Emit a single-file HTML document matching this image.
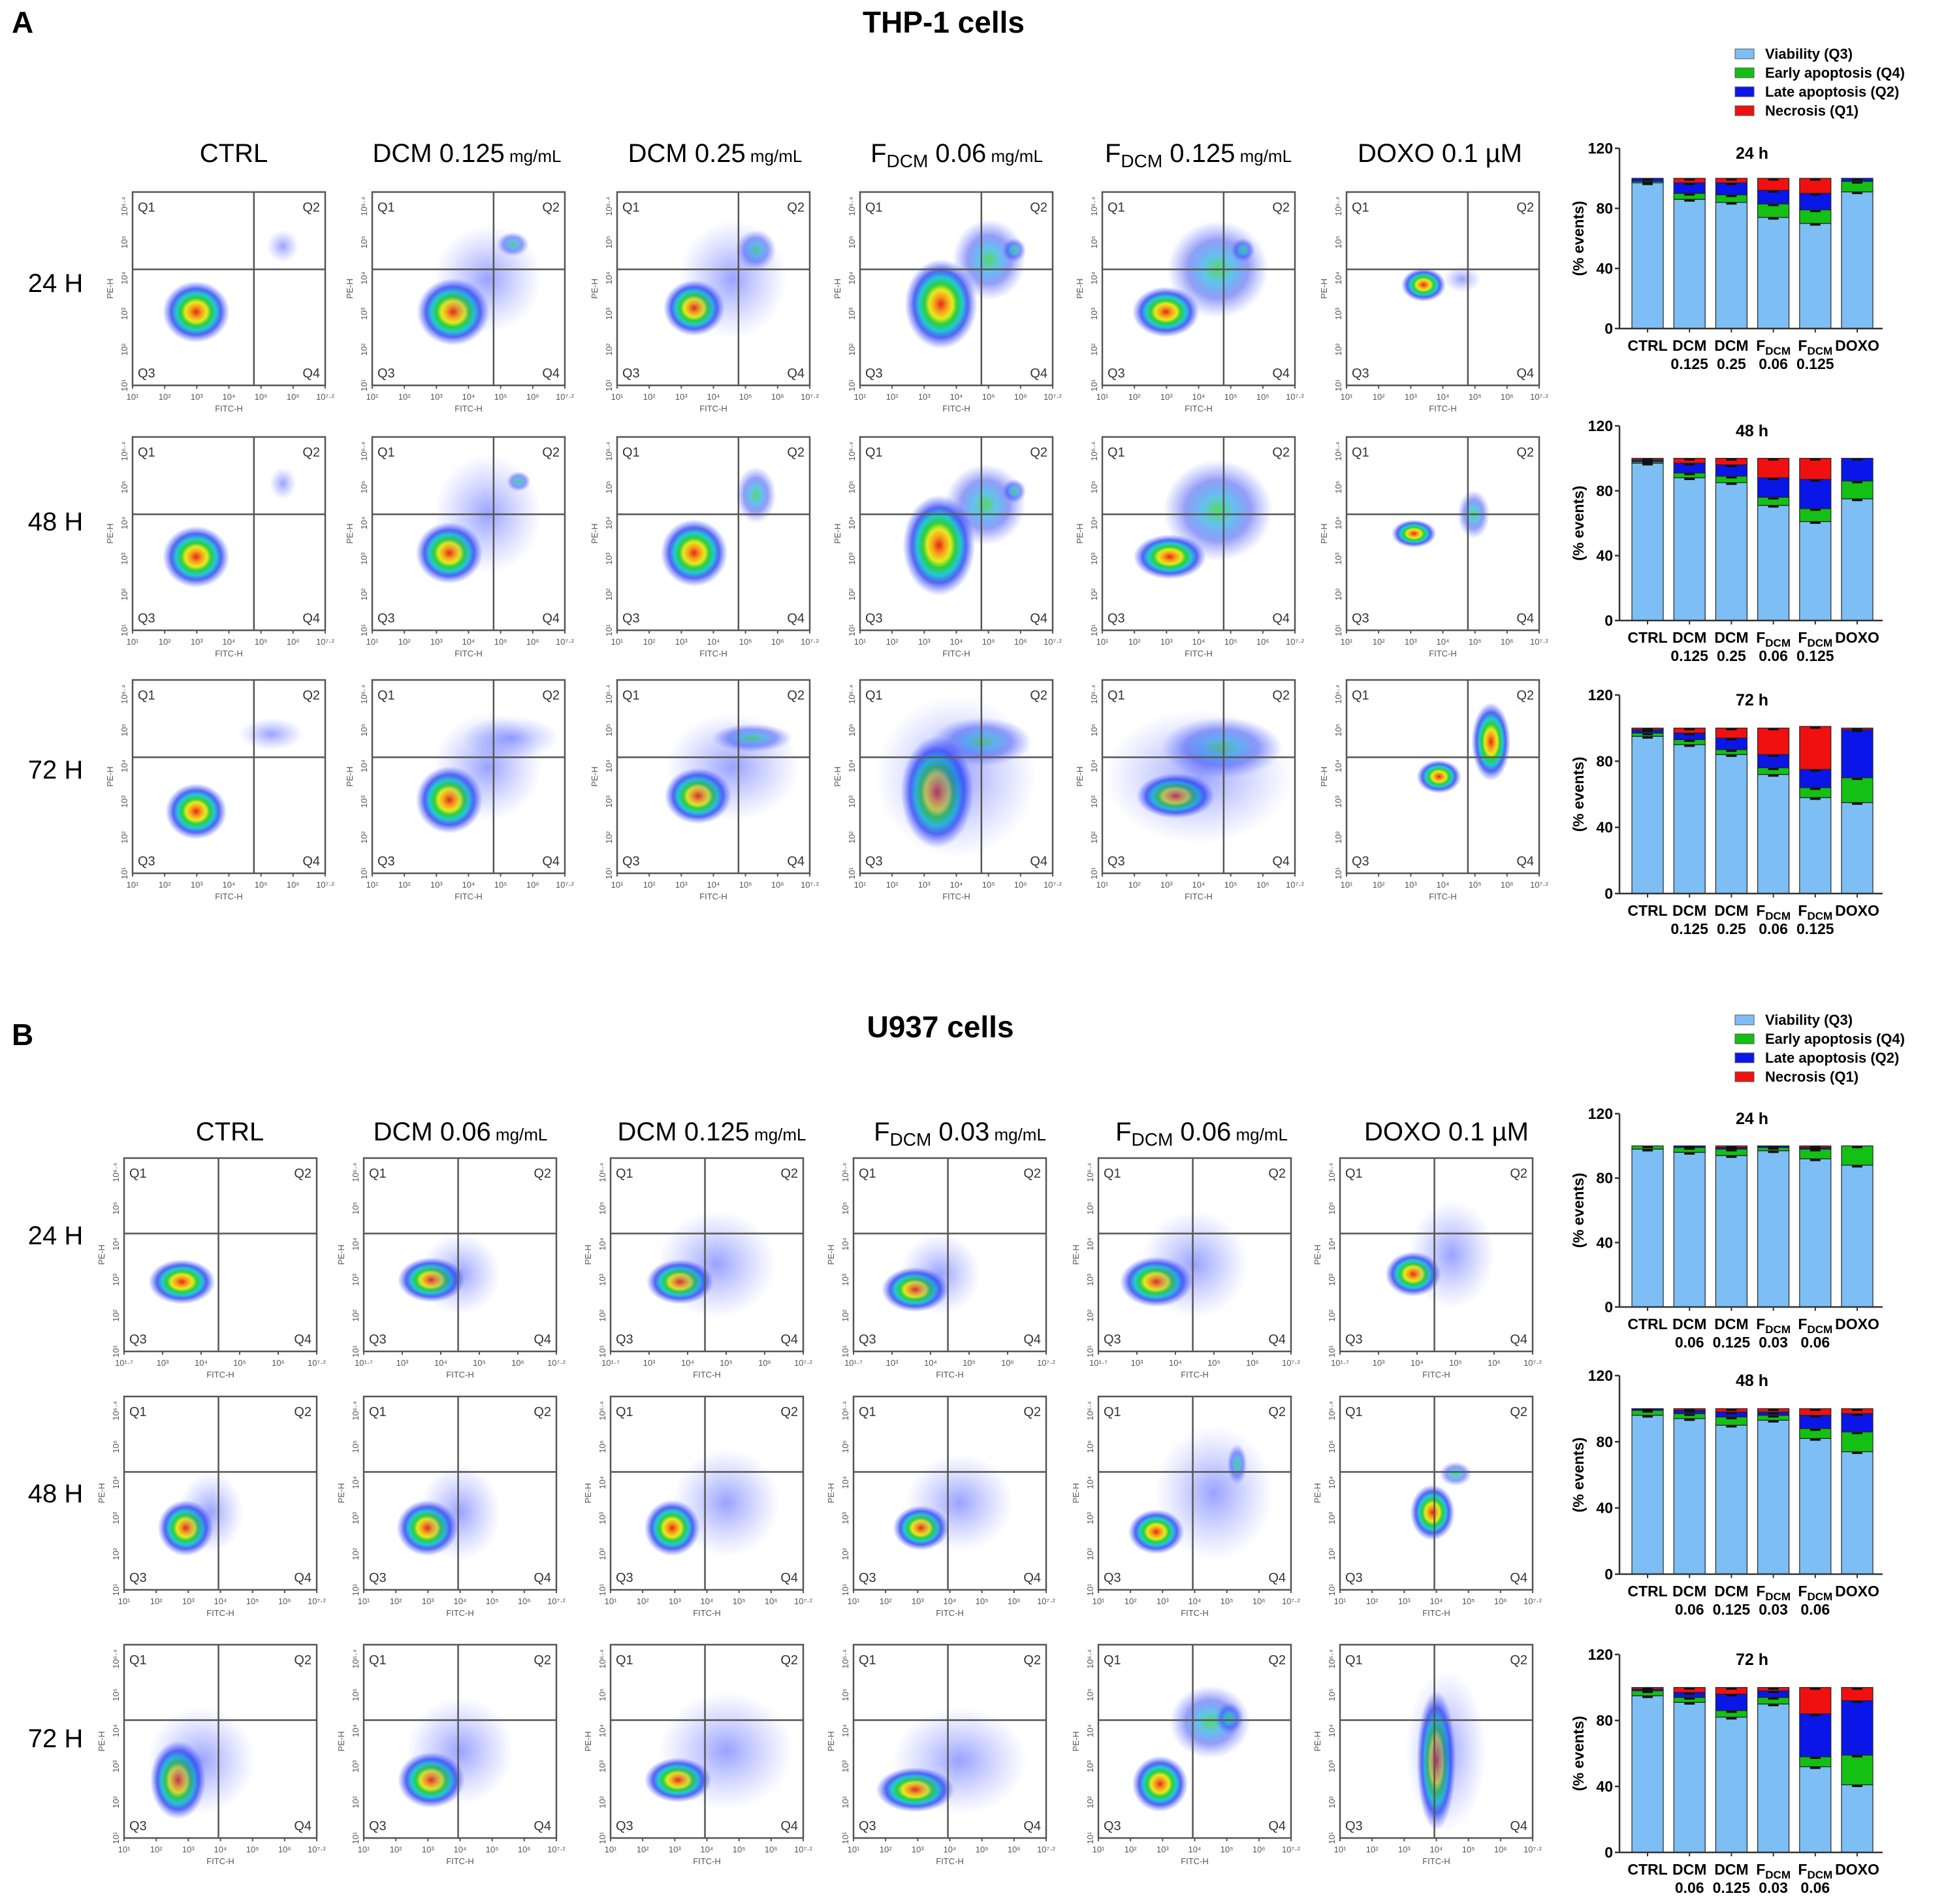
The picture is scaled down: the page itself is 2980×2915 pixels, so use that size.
<!DOCTYPE html>
<html><head><meta charset="utf-8"><style>
html,body{margin:0;padding:0;background:#fff}
svg{display:block;font-family:"Liberation Sans",Arial,sans-serif}
</style></head><body>
<svg id="fig" width="2980" height="2915" viewBox="0 0 2980 2915" xmlns="http://www.w3.org/2000/svg">
<defs>
<radialGradient id="hot" cx="50%" cy="50%" r="50%">
<stop offset="0" stop-color="#e8261a"/><stop offset="0.18" stop-color="#f6a21a"/><stop offset="0.32" stop-color="#e8ea20"/><stop offset="0.45" stop-color="#2ccf3c"/><stop offset="0.6" stop-color="#22c8d8"/><stop offset="0.75" stop-color="#2a3ef0" stop-opacity="0.8"/><stop offset="1" stop-color="#4a5cff" stop-opacity="0"/>
</radialGradient>
<radialGradient id="warm" cx="50%" cy="50%" r="50%">
<stop offset="0" stop-color="#2ccf3c" stop-opacity="0.8"/><stop offset="0.3" stop-color="#22a8e8" stop-opacity="0.7"/><stop offset="0.6" stop-color="#2a3ef0" stop-opacity="0.5"/><stop offset="1" stop-color="#4a5cff" stop-opacity="0"/>
</radialGradient>
<radialGradient id="cool" cx="50%" cy="50%" r="50%">
<stop offset="0" stop-color="#3344ff" stop-opacity="0.5"/><stop offset="1" stop-color="#6070ff" stop-opacity="0"/>
</radialGradient>
</defs>
<text x="18" y="50" font-size="46" font-weight="bold">A</text>
<text x="1445" y="50" font-size="46" font-weight="bold" text-anchor="middle">THP-1 cells</text>
<text x="18" y="1600" font-size="46" font-weight="bold">B</text>
<text x="1440" y="1588" font-size="46" font-weight="bold" text-anchor="middle">U937 cells</text>
<g id="content"></g>
</svg>
<script>
// ---- bar chart data ----
const seriesNames = ["Viability (Q3)","Early apoptosis (Q4)","Late apoptosis (Q2)","Necrosis (Q1)"];
const seriesColors = ["#7dbff5","#13c013","#0a16e8","#f01010"];
const catsA = [["CTRL"],["DCM","0.125"],["DCM","0.25"],["F|DCM","0.06"],["F|DCM","0.125"],["DOXO"]];
const catsB = [["CTRL"],["DCM","0.06"],["DCM","0.125"],["F|DCM","0.03"],["F|DCM","0.06"],["DOXO"]];
const yTicks = [0,40,80,120];
const A24_viab=[97,86,84,74,70,91], A24_early=[1,4,5,9,9,7], A24_late=[2,7,8,9,11,2], A24_nec=[0,3,3,8,10,0];
const A48_viab=[97,88,85,71,61,75], A48_early=[1,3,4,5,8,11], A48_late=[1,6,7,12,18,14], A48_nec=[1,3,4,12,13,0];
const A72_viab=[95,90,84,72,58,55], A72_early=[2,3,3,4,6,15], A72_late=[2,4,7,8,11,29], A72_nec=[1,3,6,16,26,1];
const B24_viab=[98,96,94,97,92,88], B24_early=[2,3,4,2,6,12], B24_late=[0,1,1,1,1,0], B24_nec=[0,0,1,0,1,0];
const B48_viab=[96,94,90,93,82,74], B48_early=[3,3,5,3,6,12], B48_late=[1,2,3,2,8,11], B48_nec=[0,1,2,2,4,3];
const B72_viab=[95,91,82,90,52,41], B72_early=[3,3,4,4,6,18], B72_late=[1,3,10,4,26,33], B72_nec=[1,3,4,2,16,8];

const NS="http://www.w3.org/2000/svg";
const root=document.getElementById('content');
function mk(tag,attrs,parent,txt){const e=document.createElementNS(NS,tag);for(const k in attrs)e.setAttribute(k,attrs[k]);if(txt!==undefined)e.textContent=txt;(parent||root).appendChild(e);return e;}

function barChart(ax,yTop,yBot,title,cats,data,nm){
  const g=mk('g',{});
  
  
  const yS=v=>yBot-(v/120)*(yBot-yTop);
  const xS=i=>ax+43+i*64.2;
  const t=mk('text',{x:ax+203,y:yTop+16,'font-size':25,'font-weight':'bold','text-anchor':'middle'},g,title);
  
  
  for(let i=0;i<cats.length;i++){
    let base=0;
    for(let s=0;s<4;s++){
      const v=data[s][i]; if(v<=0){continue;}
      const r=mk('rect',{x:xS(i)-24,y:yS(base+v),width:48,height:yS(base)-yS(base+v),fill:seriesColors[s],stroke:'#222','stroke-width':1.2},g);
      
      
      base+=v;
      mk('line',{x1:xS(i)-8,x2:xS(i)+8,y1:yS(base)+2,y2:yS(base)+2,stroke:'#111','stroke-width':3},g);
    }
    const lines=cats[i];
    lines.forEach((ln,k)=>{
      const tx=mk('text',{x:xS(i),y:yBot+34+k*28,'font-size':23,'font-weight':'bold','text-anchor':'middle'},g);
      if(ln.indexOf('|')>=0){const p=ln.split('|');mk('tspan',{},tx,p[0]);mk('tspan',{'font-size':17,dy:6},tx,p[1]);}
      else tx.textContent=ln;
      
      
    });
    mk('line',{x1:xS(i),x2:xS(i),y1:yBot,y2:yBot+6,stroke:'#333','stroke-width':2},g);
  }
  mk('line',{x1:ax,x2:ax,y1:yTop,y2:yBot,stroke:'#333','stroke-width':2.5},g);
  mk('line',{x1:ax,x2:ax+403,y1:yBot,y2:yBot,stroke:'#333','stroke-width':2.5},g);
  yTicks.forEach(v=>{
    mk('line',{x1:ax-7,x2:ax,y1:yS(v),y2:yS(v),stroke:'#333','stroke-width':2.5},g);
    const tl=mk('text',{x:ax-10,y:yS(v)+8,'font-size':23,'font-weight':'bold','text-anchor':'end'},g,String(v));
    
    
  });
  const yt=mk('text',{x:0,y:0,'font-size':23,'font-weight':'bold','text-anchor':'middle',transform:`translate(${ax-55},${(yTop+yBot)/2}) rotate(-90)`},g,'(% events)');
  
  
}
function legend(y0,nm){
  const g=mk('g',{});
  
  
  seriesNames.forEach((n,i)=>{
    mk('rect',{x:2657,y:y0+i*29-12,width:29,height:15,fill:seriesColors[i],stroke:'#555','stroke-width':1},g);
    const t=mk('text',{x:2703,y:y0+i*29+3,'font-size':22,'font-weight':'bold'},g,n);
    
    
  });
}
legend(87,'legend-a'); legend(1566,'legend-b');
barChart(2480,227,503,'24 h',catsA,[A24_viab,A24_early,A24_late,A24_nec],'bar-chart-a-24h');
barChart(2480,652,950,'48 h',catsA,[A48_viab,A48_early,A48_late,A48_nec],'bar-chart-a-48h');
barChart(2480,1064,1368,'72 h',catsA,[A72_viab,A72_early,A72_late,A72_nec],'bar-chart-a-72h');
barChart(2480,1705,2001,'24 h',catsB,[B24_viab,B24_early,B24_late,B24_nec],'bar-chart-b-24h');
barChart(2480,2106,2410,'48 h',catsB,[B48_viab,B48_early,B48_late,B48_nec],'bar-chart-b-48h');
barChart(2480,2533,2836,'72 h',catsB,[B72_viab,B72_early,B72_late,B72_nec],'bar-chart-b-72h');

// ---- column / row labels ----
function colLabel(x,y,main,nm){
  const t=mk('text',{x:x,y:y,'font-size':40,'text-anchor':'middle'},root,main);
  
  
}
function colLabelF(x,y,c){
  const t=mk('text',{x:x,y:y,'font-size':40,'text-anchor':'middle'});
  mk('tspan',{},t,c[0]);
  if(c[1]){mk('tspan',{'font-size':28,dy:8},t,c[1]);mk('tspan',{'font-size':40,dy:-8},t,' '+c[2]);}
  else mk('tspan',{'font-size':40},t,c[2]);
  mk('tspan',{'font-size':26},t,' mg/mL');
  
  
}
const colXA=[358,715,1095,1465,1835,2205], colXB=[352,705,1090,1470,1840,2215];
colLabel(colXA[0],248,'CTRL','column-label');
colLabelF(colXA[1],248,['DCM','','0.125'].map((v,i)=>i==2?' '+v:v));
colLabelF(colXA[2],248,['DCM','',' 0.25']);
colLabelF(colXA[3],248,['F','DCM','0.06']);
colLabelF(colXA[4],248,['F','DCM','0.125']);
colLabel(colXA[5],248,'DOXO 0.1 µM','column-label');
colLabel(colXB[0],1746,'CTRL','column-label');
colLabelF(colXB[1],1746,['DCM','',' 0.06']);
colLabelF(colXB[2],1746,['DCM','',' 0.125']);
colLabelF(colXB[3],1746,['F','DCM','0.03']);
colLabelF(colXB[4],1746,['F','DCM','0.06']);
colLabel(colXB[5],1746,'DOXO 0.1 µM','column-label');
[["24 H",447],["48 H",812],["72 H",1192],["24 H",1905],["48 H",2300],["72 H",2675]].forEach(r=>{
  const t=mk('text',{x:85,y:r[1],'font-size':40,'text-anchor':'middle'},root,r[0]);
  
  
});

// ---- flow plots ----
const colBoxA=[203,570,945,1317,1688,2062], colBoxB=[190,557,935,1307,1682,2052];
const rowBoxA=[294,669,1041], rowBoxB=[1773,2138,2518];
const clA=[
 [[[.33,.62,.12,.11,'hot'],[.78,.28,.06,.06,'cool']],[[.42,.62,.13,.12,'hot'],[.73,.27,.08,.06,'warm'],[.6,.45,.2,.2,'cool']],[[.4,.6,.11,.1,'hot'],[.72,.3,.1,.1,'warm'],[.6,.45,.2,.22,'cool']],[[.42,.58,.13,.16,'hot'],[.67,.35,.18,.2,'warm'],[.8,.3,.06,.06,'warm']],[[.33,.62,.12,.09,'hot'],[.6,.4,.25,.24,'warm'],[.73,.3,.06,.06,'warm']],[[.4,.48,.08,.06,'hot'],[.6,.45,.07,.05,'cool']]],
 [[[.33,.62,.12,.11,'hot'],[.78,.24,.05,.06,'cool']],[[.4,.6,.12,.11,'hot'],[.76,.23,.06,.05,'warm'],[.6,.4,.2,.22,'cool']],[[.4,.6,.12,.12,'hot'],[.72,.3,.1,.14,'warm']],[[.41,.56,.13,.18,'hot'],[.65,.35,.2,.2,'warm'],[.8,.28,.06,.06,'warm']],[[.35,.62,.13,.08,'hot'],[.6,.38,.27,.25,'warm']],[[.35,.5,.08,.05,'hot'],[.66,.4,.08,.12,'warm']]],
 [[[.33,.68,.11,.1,'hot'],[.72,.28,.12,.06,'cool']],[[.4,.62,.12,.12,'hot'],[.72,.3,.18,.08,'cool'],[.6,.45,.2,.2,'cool']],[[.42,.6,.12,.1,'hot'],[.7,.3,.2,.07,'warm'],[.6,.45,.25,.2,'cool']],[[.4,.58,.13,.2,'hot'],[.63,.32,.25,.12,'warm'],[.5,.5,.3,.3,'cool']],[[.38,.6,.14,.08,'hot'],[.62,.35,.3,.15,'warm'],[.5,.5,.35,.25,'cool']],[[.48,.5,.08,.06,'hot'],[.75,.32,.07,.14,'hot']]]
];
const clB=[
 [[[.3,.64,.12,.08,'hot']],[[.35,.63,.12,.08,'hot'],[.5,.6,.15,.15,'cool']],[[.36,.64,.12,.08,'hot'],[.55,.55,.22,.2,'cool']],[[.32,.68,.12,.08,'hot'],[.45,.6,.15,.15,'cool']],[[.3,.64,.13,.09,'hot'],[.5,.55,.2,.2,'cool']],[[.38,.6,.1,.08,'hot'],[.58,.5,.16,.2,'cool']]],
 [[[.32,.68,.1,.1,'hot'],[.45,.6,.12,.15,'cool']],[[.33,.68,.11,.1,'hot'],[.5,.6,.15,.18,'cool']],[[.32,.68,.1,.1,'hot'],[.6,.55,.2,.2,'cool']],[[.35,.68,.1,.08,'hot'],[.55,.55,.2,.18,'cool']],[[.3,.7,.1,.08,'hot'],[.6,.5,.22,.25,'cool'],[.72,.35,.05,.1,'warm']],[[.48,.6,.08,.1,'hot'],[.6,.4,.08,.06,'warm']]],
 [[[.28,.7,.1,.14,'hot'],[.4,.6,.2,.2,'cool']],[[.35,.7,.12,.1,'hot'],[.5,.55,.2,.2,'cool']],[[.35,.7,.12,.08,'hot'],[.6,.55,.25,.22,'cool']],[[.32,.75,.14,.08,'hot'],[.55,.6,.25,.2,'cool']],[[.32,.72,.1,.1,'hot'],[.58,.4,.2,.18,'warm'],[.68,.38,.07,.08,'warm']],[[.5,.6,.07,.25,'hot'],[.55,.55,.15,.3,'cool']]]
];
const scaleByType={hot:1.45,warm:1.05,cool:1.4};
function flowPlot(x,y,vq,hq,clusters,xt,nm){
  const w=295,h=296;
  const g=mk('g',{});
  
  
  const cp='clip-'+nm;
  const cpe=mk('clipPath',{id:cp},g); mk('rect',{x:x,y:y,width:w,height:h},cpe);
  const cg=mk('g',{'clip-path':'url(#'+cp+')'},g);
  clusters.forEach(c=>{
    const s=scaleByType[c[4]];
    const e=mk('ellipse',{cx:x+c[0]*w,cy:y+c[1]*h,rx:c[2]*w*s,ry:c[3]*h*s,fill:'url(#'+c[4]+')'},cg);
    
    
  });
  mk('rect',{x:x,y:y,width:w,height:h,fill:'none',stroke:'#555','stroke-width':2.5},g);
  mk('line',{x1:x+vq*w,x2:x+vq*w,y1:y,y2:y+h,stroke:'#555','stroke-width':2.5},g);
  mk('line',{x1:x,x2:x+w,y1:y+hq*h,y2:y+hq*h,stroke:'#555','stroke-width':2.5},g);
  [['Q1',8,30,'start'],['Q2',w-8,30,'end'],['Q3',8,h-12,'start'],['Q4',w-8,h-12,'end']].forEach(q=>{
    const t=mk('text',{x:x+q[1],y:y+q[2],'font-size':20,fill:'#333','text-anchor':q[3]},g,q[0]);
    
    
  });
  xt.forEach((l,i)=>{
    const tx=x+i*w/(xt.length-1);
    mk('line',{x1:tx,x2:tx,y1:y+h,y2:y+h+5,stroke:'#555','stroke-width':2},g);
    const t=mk('text',{x:tx,y:y+h+22,'font-size':13,fill:'#555','text-anchor':'middle'},g,l);
    
    
  });
  ['10¹','10²','10³','10⁴','10⁵','10⁶·⁴'].forEach((l,i)=>{
    const ty=y+h-i*h/5.4;
    mk('text',{x:0,y:0,'font-size':13,fill:'#555','text-anchor':'middle',transform:`translate(${x-8},${ty}) rotate(-90)`},g,l);
  });
  const xa=mk('text',{x:x+w/2,y:y+h+40,'font-size':13,fill:'#555','text-anchor':'middle'},g,'FITC-H');
  
  
  const ya=mk('text',{x:0,y:0,'font-size':13,fill:'#555','text-anchor':'middle',transform:`translate(${x-30},${y+h/2}) rotate(-90)`},g,'PE-H');
  
  
}
const xtA=['10¹','10²','10³','10⁴','10⁵','10⁶','10⁷·²'];
const xtB=['10¹·⁷','10³','10⁴','10⁵','10⁶','10⁷·²'];
for(let r=0;r<3;r++)for(let c=0;c<6;c++){
  flowPlot(colBoxA[c],rowBoxA[r],0.63,0.4,clA[r][c],xtA,'flow-plot-a-r'+r+'-c'+c);
  flowPlot(colBoxB[c],rowBoxB[r],0.49,0.39,clB[r][c],r==0?xtB:xtA,'flow-plot-b-r'+r+'-c'+c);
}
</script>
</body></html>
